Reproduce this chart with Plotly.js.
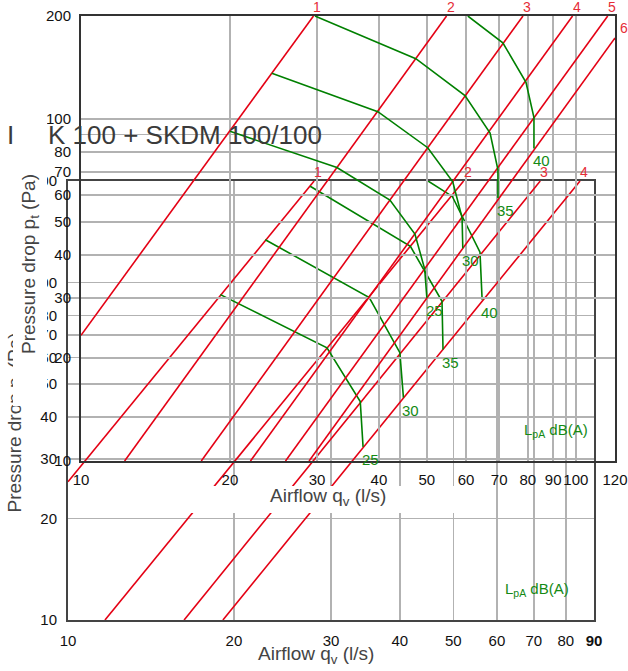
<!DOCTYPE html>
<html><head><meta charset="utf-8">
<script src="https://cdn.plot.ly/plotly-3.0.1.min.js"></script>
<style>html,body{margin:0;padding:0;background:#fff}#chart{width:628px;height:671px}</style>
</head><body><div id="chart"></div>
<script>
// ---------- Upper diagram (airflow 10-120 l/s) ----------
const upperRedLabels = ['1', '2', '3', '4', '5', '6'];
const upperRedX = [[10, 29.5], [12.25, 54.8], [17.5, 78.2], [22.0, 98.5], [25.9, 116], [28.9, 120]];
const upperRedY = [[23.3, 200], [10, 200], [10, 200], [10, 200], [10, 200], [10, 172.6]];
const upperGreenLabels = ['25', '30', '35', '40'];
const upperGreenX = [[20.0, 32.9, 42.1, 47.3, 49.5, 50.0], [24.3, 39.8, 50.2, 56.4, 58.9, 59.1], [29.7, 47.5, 59.7, 67.1, 69.6, 69.6], [60.5, 71.2, 79.3, 82.3, 82.3]];
const upperGreenY = [[92, 72.1, 57.9, 46.1, 36.4, 30.0], [136, 105, 82.4, 65.5, 51.5, 41.9], [200, 150, 117, 91, 71, 58.7], [200, 167, 128, 101, 82]];
const upperXTicks = [10, 20, 30, 40, 50, 60, 70, 80, 90, 100, 120];
const upperXTickText = ['10', '20', '30', '40', '50', '60', '70', '80', '90', '100', '120'];
const upperYTicks = [10, 20, 30, 40, 50, 60, 70, 80, 100, 200];
const upperYTickText = ['10', '20', '30', '40', '50', '60', '70', '80', '100', '200'];
const upperYMinorGrid = [90];

// ---------- Lower diagram (airflow 10-90 l/s) ----------
const lowerRedLabels = ['1', '2', '3', '4'];
const lowerRedX = [[10, 27.96], [11.67, 52.2], [16.24, 71.9], [19.1, 84.9]];
const lowerRedY = [[25.7, 200], [10, 200], [10, 200], [10, 200]];
const lowerGreenLabels = ['25', '30', '35', '40'];
const lowerGreenX = [[18.9, 29.5, 33.9, 34.3], [22.8, 35.2, 40.0, 40.6], [27.5, 41.8, 47.7, 47.9], [45.0, 49.8, 55.9, 56.4]];
const lowerGreenY = [[92.1, 64.1, 44.4, 32.6], [134, 90.3, 62.0, 45.6], [193, 128, 88, 63.3], [200, 180, 123, 89]];
const lowerXTicks = [10, 20, 30, 40, 50, 60, 70, 80, 90];
const lowerXTickText = ['10', '20', '30', '40', '50', '60', '70', '80', '<b>90</b>'];
const lowerYTicks = [10, 20, 30, 40, 50, 60, 70, 80, 100, 200];
const lowerYTickText = ['10', '20', '30', '40', '50', '60', '70', '80', '100', '200'];
const lowerYMinorGrid = [90];

const titleLead = 'I';
const titleMain = 'K 100 + SKDM 100/100';
const yTitle = 'Pressure drop p<sub>t</sub> (Pa)';
const xTitle = 'Airflow q<sub>v</sub> (l/s)';
const soundTitle = 'L<sub>pA</sub> dB(A)';

// ---------- drawing ----------
const W = 628, H = 671;
const FONT = '"Liberation Sans", Arial, Helvetica, sans-serif';
const RED = 'rgb(228,0,20)', RED_TXT = 'rgb(230,45,55)';
const GREEN = 'rgb(0,128,0)', GREEN_TXT = 'rgb(20,138,20)';
const px = v => v / W, py = v => 1 - v / H;
const L = Math.log10;

const traces = [];
function addLines(xs, ys, color, xa, ya) {
  xs.forEach((x, i) => traces.push({
    type: 'scatter', mode: 'lines', x: x, y: ys[i], xaxis: xa, yaxis: ya,
    line: { color: color, width: 1.6 }, hoverinfo: 'skip', showlegend: false
  }));
}
addLines(lowerRedX, lowerRedY, RED, 'x', 'y');
addLines(lowerGreenX, lowerGreenY, GREEN, 'x', 'y');
addLines(upperRedX, upperRedY, RED, 'x2', 'y2');
addLines(upperGreenX, upperGreenY, GREEN, 'x2', 'y2');

const ann = [];
function redLabels(labels, xs, ys, xr, yr, top) {
  labels.forEach((t, i) => {
    const xe = xs[i][xs[i].length - 1], ye = ys[i][ys[i].length - 1];
    const atTop = ye >= top * 0.999;
    ann.push({
      xref: xr, yref: yr, x: L(xe), y: L(ye), text: t, showarrow: false,
      font: { family: FONT, size: 14, color: RED_TXT },
      xanchor: 'center', yanchor: atTop ? 'bottom' : 'middle',
      xshift: atTop ? 4 : 9, yshift: atTop ? -1 : 10
    });
  });
}
function greenLabels(labels, xs, ys, xr, yr) {
  labels.forEach((t, i) => {
    const xe = xs[i][xs[i].length - 1], ye = ys[i][ys[i].length - 1];
    ann.push({
      xref: xr, yref: yr, x: L(xe), y: L(ye), text: t, showarrow: false,
      font: { family: FONT, size: 15, color: GREEN_TXT },
      xanchor: 'left', yanchor: 'top', xshift: -3, yshift: -2
    });
  });
}
// lower diagram texts (drawn first, partly covered later)
ann.push({ xref: 'paper', yref: 'paper', x: px(5), y: py(135), xanchor: 'left', yanchor: 'middle', showarrow: false,
  text: titleLead, font: { family: FONT, size: 26, color: '#3a3a3a' } });
ann.push({ xref: 'paper', yref: 'paper', x: px(46), y: py(135), xanchor: 'left', yanchor: 'middle', showarrow: false,
  text: titleMain, font: { family: FONT, size: 26, color: '#3a3a3a' } });
ann.push({ xref: 'paper', yref: 'paper', x: px(15.5), y: py(423), xanchor: 'center', yanchor: 'middle', showarrow: false,
  textangle: -90, text: yTitle, font: { family: FONT, size: 19, color: '#444' } });
ann.push({ xref: 'paper', yref: 'paper', x: px(316), y: py(655), xanchor: 'center', yanchor: 'middle', showarrow: false,
  text: xTitle, font: { family: FONT, size: 19, color: '#444' } });
ann.push({ xref: 'x', yref: 'y', x: L(61.5), y: L(12.3), xanchor: 'left', yanchor: 'middle', showarrow: false,
  text: soundTitle, font: { family: FONT, size: 15, color: GREEN_TXT } });
redLabels(lowerRedLabels, lowerRedX, lowerRedY, 'x', 'y', 200);
greenLabels(lowerGreenLabels, lowerGreenX, lowerGreenY, 'x', 'y');
// upper diagram texts
redLabels(upperRedLabels, upperRedX, upperRedY, 'x2', 'y2', 200);
greenLabels(upperGreenLabels, upperGreenX, upperGreenY, 'x2', 'y2');
ann.push({ xref: 'x2', yref: 'y2', x: L(77.8), y: L(12.3), xanchor: 'left', yanchor: 'middle', showarrow: false,
  text: soundTitle, font: { family: FONT, size: 15, color: GREEN_TXT } });
// upper y title sits on a white box that hides part of the lower diagram's texts
ann.push({ xref: 'paper', yref: 'paper', x: px(29.5), y: py(264), xanchor: 'center', yanchor: 'middle', showarrow: false,
  textangle: -90, width: 281, height: 31, bgcolor: '#ffffff', text: yTitle, font: { family: FONT, size: 19, color: '#444' } });
ann.push({ xref: 'paper', yref: 'paper', x: px(328), y: py(497), xanchor: 'center', yanchor: 'middle', showarrow: false,
  text: xTitle, font: { family: FONT, size: 19, color: '#444' } });

const shapes = [{
  type: 'rect', xref: 'paper', yref: 'paper', x0: px(70), x1: px(475), y0: py(513), y1: py(486),
  fillcolor: '#ffffff', line: { width: 0 }, layer: 'above'
}];

const axBase = {
  type: 'log', tickmode: 'array', showgrid: true, gridcolor: '#b2b2b2', gridwidth: 1.5,
  zeroline: false, showline: true, mirror: true, linewidth: 2, ticks: '', tickangle: 0,
  tickfont: { family: FONT, size: 15, color: '#111' }, fixedrange: true
};
const layout = {
  width: W, height: H, margin: { l: 0, r: 0, t: 0, b: 0, pad: 0 },
  paper_bgcolor: '#ffffff', plot_bgcolor: 'rgba(0,0,0,0)', showlegend: false,
  font: { family: FONT },
  xaxis: Object.assign({}, axBase, { domain: [68 / W, 594 / W], range: [1, L(90)], anchor: 'y',
    tickvals: lowerXTicks, ticktext: lowerXTickText, linecolor: '#444', ticklabelstandoff: 6 }),
  yaxis: Object.assign({}, axBase, { domain: [py(620), py(181)], range: [1, L(200)], anchor: 'x',
    tickvals: lowerYTicks, ticktext: lowerYTickText, linecolor: '#444', ticklabelstandoff: 6,
    minor: { tickmode: 'array', tickvals: lowerYMinorGrid, showgrid: true, gridcolor: '#b2b2b2', gridwidth: 1.5, ticks: '' } }),
  xaxis2: Object.assign({}, axBase, { domain: [81 / W, 615 / W], range: [1, L(120)], anchor: 'y2',
    tickvals: upperXTicks, ticktext: upperXTickText, linecolor: '#333', ticklabelstandoff: 4 }),
  yaxis2: Object.assign({}, axBase, { domain: [py(461), py(16)], range: [1, L(200)], anchor: 'x2',
    tickvals: upperYTicks, ticktext: upperYTickText, linecolor: '#333', ticklabelstandoff: 5,
    minor: { tickmode: 'array', tickvals: upperYMinorGrid, showgrid: true, gridcolor: '#b2b2b2', gridwidth: 1.5, ticks: '' } }),
  shapes: shapes,
  annotations: ann
};
Plotly.newPlot('chart', traces, layout, { staticPlot: true, displayModeBar: false });
</script></body></html>
